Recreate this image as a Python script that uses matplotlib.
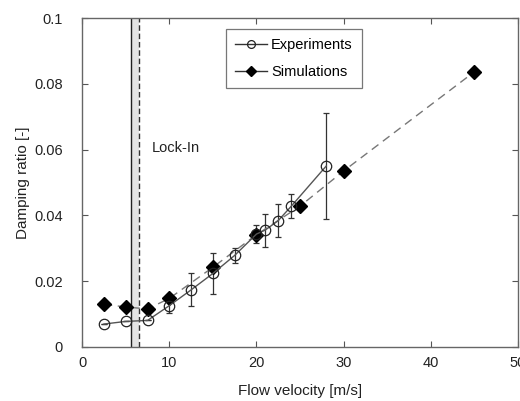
import matplotlib
matplotlib.use("Agg")
import matplotlib.pyplot as plt

plt.rcParams['font.family'] = ['Liberation Sans', 'DejaVu Sans']

exp_x = [2.5, 5.0, 7.5, 10.0, 12.5, 15.0, 17.5, 20.0, 21.0, 22.5, 24.0, 28.0]
exp_y = [0.0069, 0.0077, 0.0080, 0.0125, 0.0173, 0.0223, 0.0278, 0.0343, 0.0355, 0.0384, 0.0428, 0.0550]
exp_err = [0.0, 0.0, 0.0, 0.0023, 0.0050, 0.0062, 0.0023, 0.0028, 0.0050, 0.0050, 0.0037, 0.0161]

sim_x = [2.5, 5.0, 7.5, 10.0, 15.0, 20.0, 25.0, 30.0, 45.0]
sim_y = [0.0129, 0.0121, 0.0115, 0.0147, 0.0242, 0.0341, 0.0428, 0.0535, 0.0837]

lock_lo, lock_hi = 5.55, 6.55

fig = plt.figure(figsize=(5.2, 4.01), dpi=100)
ax = fig.add_axes([0.158, 0.1354, 0.838, 0.8190])

ax.axvspan(lock_lo, lock_hi, facecolor='#e4e4e4', edgecolor='none', zorder=0)
ax.axvline(lock_lo, color='#222222', lw=1.0, zorder=1)
ax.axvline(lock_hi, color='#333333', lw=1.0, ls=(0, (4, 2)), zorder=1)

ax.errorbar(exp_x, exp_y, yerr=exp_err, fmt='none', ecolor='#333333',
            elinewidth=0.9, capsize=2, capthick=0.9, zorder=2)
ax.plot(sim_x, sim_y, ls=(0, (6, 4)), color='#777777', lw=1.0,
        marker='D', markersize=7, markerfacecolor='black', markeredgecolor='black',
        label='Simulations', zorder=3)
ax.plot(exp_x, exp_y, ls='-', color='#555555', lw=1.0,
        marker='o', markersize=7.5, markerfacecolor='none', markeredgecolor='#222222',
        markeredgewidth=0.9, label='Experiments', zorder=4)

ax.text(8.0, 0.0605, 'Lock-In', fontsize=10.5, va='center', ha='left', color='#222222')

ax.set_xlim(0, 50)
ax.set_ylim(0, 0.1)
ax.set_xticks([0, 10, 20, 30, 40, 50])
ax.set_xticklabels(['0', '10', '20', '30', '40', '50'])
ax.set_yticks([0, 0.02, 0.04, 0.06, 0.08, 0.1])
ax.set_yticklabels(['0', '0.02', '0.04', '0.06', '0.08', '0.1'])
ax.tick_params(direction='in', top=True, right=True, length=4, width=0.8,
               color='#555555', labelsize=10.5, labelcolor='#222222')
ax.tick_params(axis='y', pad=14)
ax.tick_params(axis='x', pad=7)
for s in ax.spines.values():
    s.set_color('#666666')
    s.set_linewidth(1.0)

ax.set_xlabel('Flow velocity [m/s]', fontsize=11, color='#222222', labelpad=10)
ax.set_ylabel('Damping ratio [-]', fontsize=11, color='#222222', labelpad=3)

h, l = ax.get_legend_handles_labels()
leg = ax.legend(h[::-1], l[::-1], loc='upper left', bbox_to_anchor=(0.33, 0.966),
                fontsize=10.5, frameon=True, fancybox=False, handlelength=2.2,
                borderpad=0.6, labelspacing=0.9, handletextpad=0.3, borderaxespad=0,
                markerscale=0.75)
leg.get_frame().set_edgecolor('#555555')
leg.get_frame().set_linewidth(0.9)
for line in leg.get_lines():
    line.set_linestyle('-')
    line.set_color('#333333')

fig.savefig('out.png', dpi=100)
